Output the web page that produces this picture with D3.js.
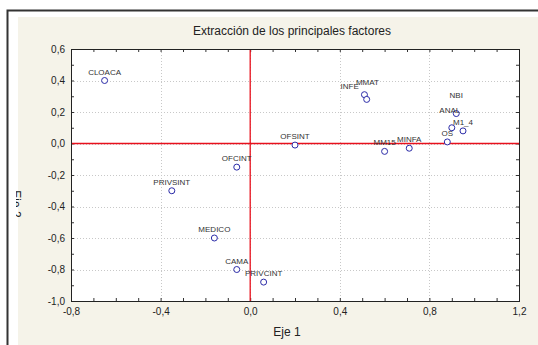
<!DOCTYPE html>
<html>
<head>
<meta charset="utf-8">
<script src="https://cdn.jsdelivr.net/npm/d3@7"></script>
<style>
  body { margin: 0; background: #fff; }
  svg { display: block; font-family: "Liberation Sans", Arial, sans-serif; }
</style>
</head>
<body>
<div id="chart"></div>
<script>
// factor loadings
const names = ["CLOACA", "OFCINT", "OFSINT", "MMAT", "INFE", "NBI", "ANAL", "M1_4", "OS",
               "MM15", "MINFA", "PRIVSINT", "MEDICO", "CAMA", "PRIVCINT"];
const eje1 = [-0.65, -0.06, 0.20, 0.51, 0.52, 0.92, 0.90, 0.95, 0.88, 0.60, 0.71, -0.35, -0.16, -0.06, 0.06];
const eje2 = [0.40, -0.15, -0.01, 0.31, 0.28, 0.19, 0.10, 0.08, 0.01, -0.05, -0.03, -0.30, -0.60, -0.80, -0.88];
const xTicks = [-0.8, -0.4, 0, 0.4, 0.8, 1.2];
const yTicks = [0.6, 0.4, 0.2, 0, -0.2, -0.4, -0.6, -0.8, -1.0];

// label nudges where labels were moved to avoid overlap
const labelNudge = { MMAT: [3, -4], INFE: [-17, -4], NBI: [0, -10], ANAL: [-2, -9] };

const width = 538, height = 345;
const margin = { left: 71, top: 49, right: 519, bottom: 301 };

const svg = d3.select("#chart").append("svg")
  .attr("width", width)
  .attr("height", height);

// frame
svg.append("rect").attr("x", 0).attr("y", 0).attr("width", width).attr("height", height).attr("fill", "#fff");
svg.append("path")
  .attr("d", `M7.5,${height} V10.5 H${width}`)
  .attr("fill", "none").attr("stroke", "#333").attr("stroke-width", 2);
svg.append("rect").attr("x", 18).attr("y", 17).attr("width", width - 18).attr("height", height - 17)
  .attr("fill", "#f5f3e9");

const x = d3.scaleLinear().domain([-0.8, 1.2]).range([margin.left, margin.right]);
const y = d3.scaleLinear().domain([-1.0, 0.6]).range([margin.bottom, margin.top]);

svg.append("rect")
  .attr("x", margin.left).attr("y", margin.top)
  .attr("width", margin.right - margin.left).attr("height", margin.bottom - margin.top)
  .attr("fill", "#fff");

// dotted grid
const grid = svg.append("g").attr("stroke", "#c8c8c8").attr("stroke-dasharray", "1,2").attr("stroke-width", 1);
grid.selectAll("line.gx").data(xTicks.slice(1, -1)).join("line")
  .attr("x1", d => Math.round(x(d)) + 0.5).attr("x2", d => Math.round(x(d)) + 0.5)
  .attr("y1", margin.top).attr("y2", margin.bottom);
grid.selectAll("line.gy").data(yTicks.slice(1, -1)).join("line")
  .attr("y1", d => Math.round(y(d)) + 0.5).attr("y2", d => Math.round(y(d)) + 0.5)
  .attr("x1", margin.left).attr("x2", margin.right);

// axes with inner ticks every 0.1
const fmt = d => d3.format(".1f")(d).replace(".", ",").replace("−", "-");
const xMinor = d3.range(-8, 13).map(i => i / 10);
const yMinor = d3.range(-10, 7).map(i => i / 10);

function tickAxis(axis, g) {
  g.call(axis);
  g.select(".domain").remove();
  g.selectAll(".tick line").attr("stroke", "#333");
  g.selectAll(".tick text").attr("fill", "#222").attr("font-size", 10);
}

svg.append("g").attr("transform", `translate(0,${margin.bottom})`)
  .call(g => tickAxis(d3.axisBottom(x).tickValues(xMinor).tickSize(-3).tickFormat(""), g));
svg.append("g").attr("transform", `translate(0,${margin.top})`)
  .call(g => tickAxis(d3.axisTop(x).tickValues(xMinor).tickSize(-3).tickFormat(""), g));
svg.append("g").attr("transform", `translate(${margin.left},0)`)
  .call(g => tickAxis(d3.axisLeft(y).tickValues(yMinor).tickSize(-3).tickFormat(""), g));
svg.append("g").attr("transform", `translate(${margin.right},0)`)
  .call(g => tickAxis(d3.axisRight(y).tickValues(yMinor).tickSize(-3).tickFormat(""), g));

// tick labels
svg.append("g").attr("transform", `translate(0,${margin.bottom})`)
  .call(g => tickAxis(d3.axisBottom(x).tickValues(xTicks).tickSize(0).tickPadding(7).tickFormat(fmt), g));
svg.append("g").attr("transform", `translate(${margin.left},0)`)
  .call(g => tickAxis(d3.axisLeft(y).tickValues(yTicks).tickSize(0).tickPadding(6).tickFormat(fmt), g));

// zero lines
svg.append("line")
  .attr("x1", margin.left).attr("x2", margin.right)
  .attr("y1", y(0)).attr("y2", y(0))
  .attr("stroke", "#e8101c").attr("stroke-width", 1.3);
svg.append("line")
  .attr("x1", x(0)).attr("x2", x(0))
  .attr("y1", margin.top).attr("y2", margin.bottom)
  .attr("stroke", "#e8101c").attr("stroke-width", 1.3);

// plot border
svg.append("rect")
  .attr("x", margin.left + 0.5).attr("y", margin.top + 0.5)
  .attr("width", margin.right - margin.left).attr("height", margin.bottom - margin.top)
  .attr("fill", "none").attr("stroke", "#222").attr("stroke-width", 1);

// points and labels
const points = names.map((n, i) => ({ name: n, x: eje1[i], y: eje2[i] }));

svg.append("g").selectAll("circle").data(points).join("circle")
  .attr("cx", d => x(d.x)).attr("cy", d => y(d.y)).attr("r", 3)
  .attr("fill", "#fff").attr("stroke", "#2b2ba8").attr("stroke-width", 1);

svg.append("g").selectAll("text").data(points).join("text")
  .attr("x", d => x(d.x) + (labelNudge[d.name] ? labelNudge[d.name][0] : 0))
  .attr("y", d => y(d.y) - 6 + (labelNudge[d.name] ? labelNudge[d.name][1] : 0))
  .attr("text-anchor", "middle")
  .attr("font-size", 8)
  .attr("fill", "#333")
  .text(d => d.name);

// titles
svg.append("text")
  .attr("x", 292).attr("y", 35)
  .attr("text-anchor", "middle").attr("font-size", 12).attr("fill", "#222")
  .text("Extracción de los principales factores");

svg.append("text")
  .attr("x", 287).attr("y", 336)
  .attr("text-anchor", "middle").attr("font-size", 12).attr("fill", "#222")
  .text("Eje 1");

svg.append("clipPath").attr("id", "yclip")
  .append("rect").attr("x", 16).attr("y", 0).attr("width", 40).attr("height", height);
svg.append("g").attr("clip-path", "url(#yclip)")
  .append("text")
  .attr("transform", "translate(12,204) rotate(90)")
  .attr("text-anchor", "middle").attr("font-size", 12).attr("fill", "#222")
  .text("Eje 2");
</script>
</body>
</html>
